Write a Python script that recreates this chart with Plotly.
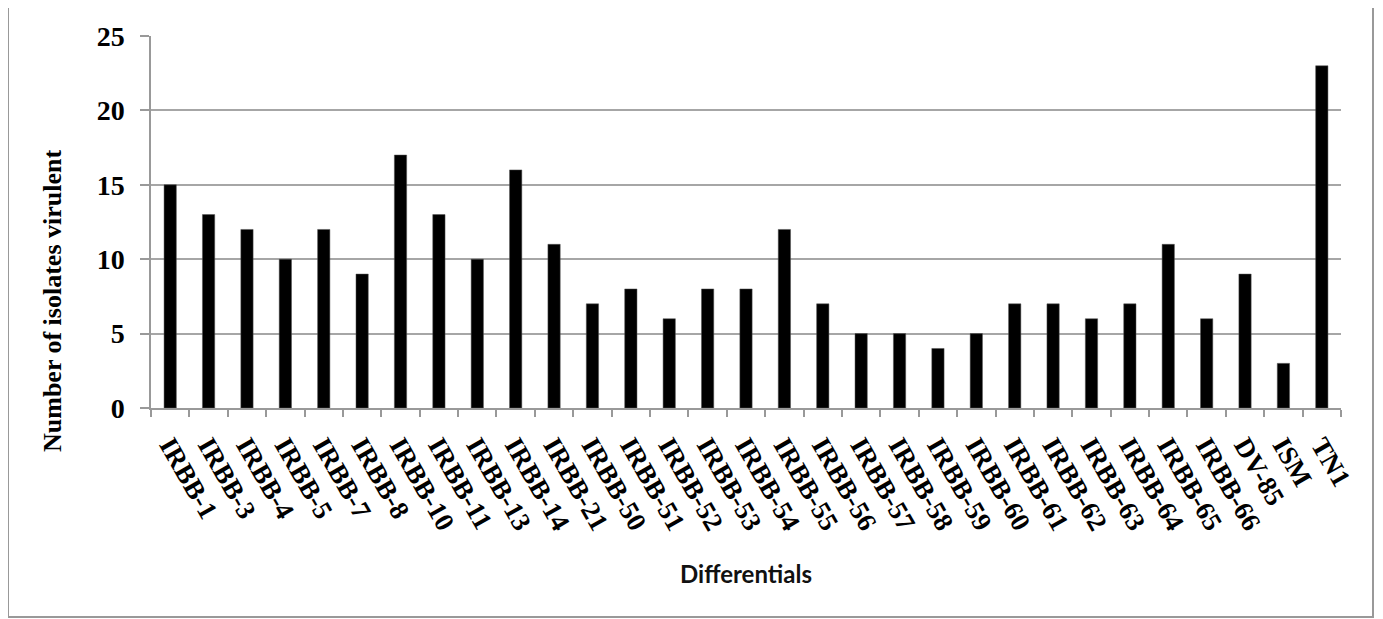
import plotly.graph_objects as go

categories = ["IRBB-1", "IRBB-3", "IRBB-4", "IRBB-5", "IRBB-7", "IRBB-8", "IRBB-10",
              "IRBB-11", "IRBB-13", "IRBB-14", "IRBB-21", "IRBB-50", "IRBB-51", "IRBB-52",
              "IRBB-53", "IRBB-54", "IRBB-55", "IRBB-56", "IRBB-57", "IRBB-58", "IRBB-59",
              "IRBB-60", "IRBB-61", "IRBB-62", "IRBB-63", "IRBB-64", "IRBB-65", "IRBB-66",
              "DV-85", "ISM", "TN1"]
values = [15, 13, 12, 10, 12, 9, 17, 13, 10, 16, 11, 7, 8, 6, 8, 8, 12, 7, 5, 5, 4, 5,
          7, 7, 6, 7, 11, 6, 9, 3, 23]
y_ticks = [0, 5, 10, 15, 20, 25]

# page body has an 8px margin: work in screen pixels and offset
OFF = 8
SW, SH = 1383, 619
W, H = SW - OFF, SH - OFF
# plot area in screen pixels
PX0, PX1, PY0, PY1 = 151, 1341, 36, 408
L, R, T, B = PX0 - OFF, W - (PX1 - OFF), PY0 - OFF, H - (PY1 - OFF)
pw, ph = PX1 - PX0, PY1 - PY0

def px_x(x):
    return (x - PX0) / pw

def px_y(y):
    return (PY1 - y) / ph

serif = "Liberation Serif, Times New Roman, serif"

fig = go.Figure(go.Bar(
    x=categories, y=values, width=0.32,
    marker=dict(color="black", line=dict(color="#555", width=0.5)),
))

fig.update_layout(
    width=W, height=H,
    margin=dict(l=L, r=R, t=T, b=B),
    paper_bgcolor="white", plot_bgcolor="white",
    showlegend=False,
    xaxis=dict(
        type="category", tickangle=60,
        tickfont=dict(family=serif, size=27, color="black", weight="bold"),
        ticks="outside", tickson="boundaries", ticklen=7, tickcolor="#999", tickwidth=1.5,
        showline=True, linecolor="#999", linewidth=1.5,
        showgrid=False, ticklabelstandoff=9,
        range=[-0.5, len(categories) - 0.5],
    ),
    yaxis=dict(
        range=[0, 25], tickvals=y_ticks,
        tickfont=dict(family=serif, size=28, color="black", weight="bold"),
        ticks="outside", ticklen=9, tickcolor="#999", tickwidth=1.5,
        showline=True, linecolor="#999", linewidth=1.5,
        showgrid=True, gridcolor="#a6a6a6", gridwidth=1.5,
        ticklabelstandoff=10, zeroline=False,
    ),
    annotations=[
        dict(text="<b>Number of isolates virulent</b>", textangle=-90,
             xref="paper", yref="paper", x=px_x(52), y=px_y(301),
             xanchor="center", yanchor="middle", showarrow=False,
             font=dict(family=serif, size=26, color="black")),
        dict(text="<b>Differentials</b>",
             xref="paper", yref="paper", x=px_x(746), y=px_y(573),
             xanchor="center", yanchor="middle", showarrow=False,
             font=dict(family="Lato, Open Sans, sans-serif", size=24, color="#111")),
    ],
    shapes=[
        dict(type="rect", xref="paper", yref="paper",
             x0=px_x(8), x1=px_x(1373), y0=px_y(617), y1=px_y(5),
             line=dict(color="#999", width=2), fillcolor="rgba(0,0,0,0)"),
    ],
)

fig.write_html("out.html")
